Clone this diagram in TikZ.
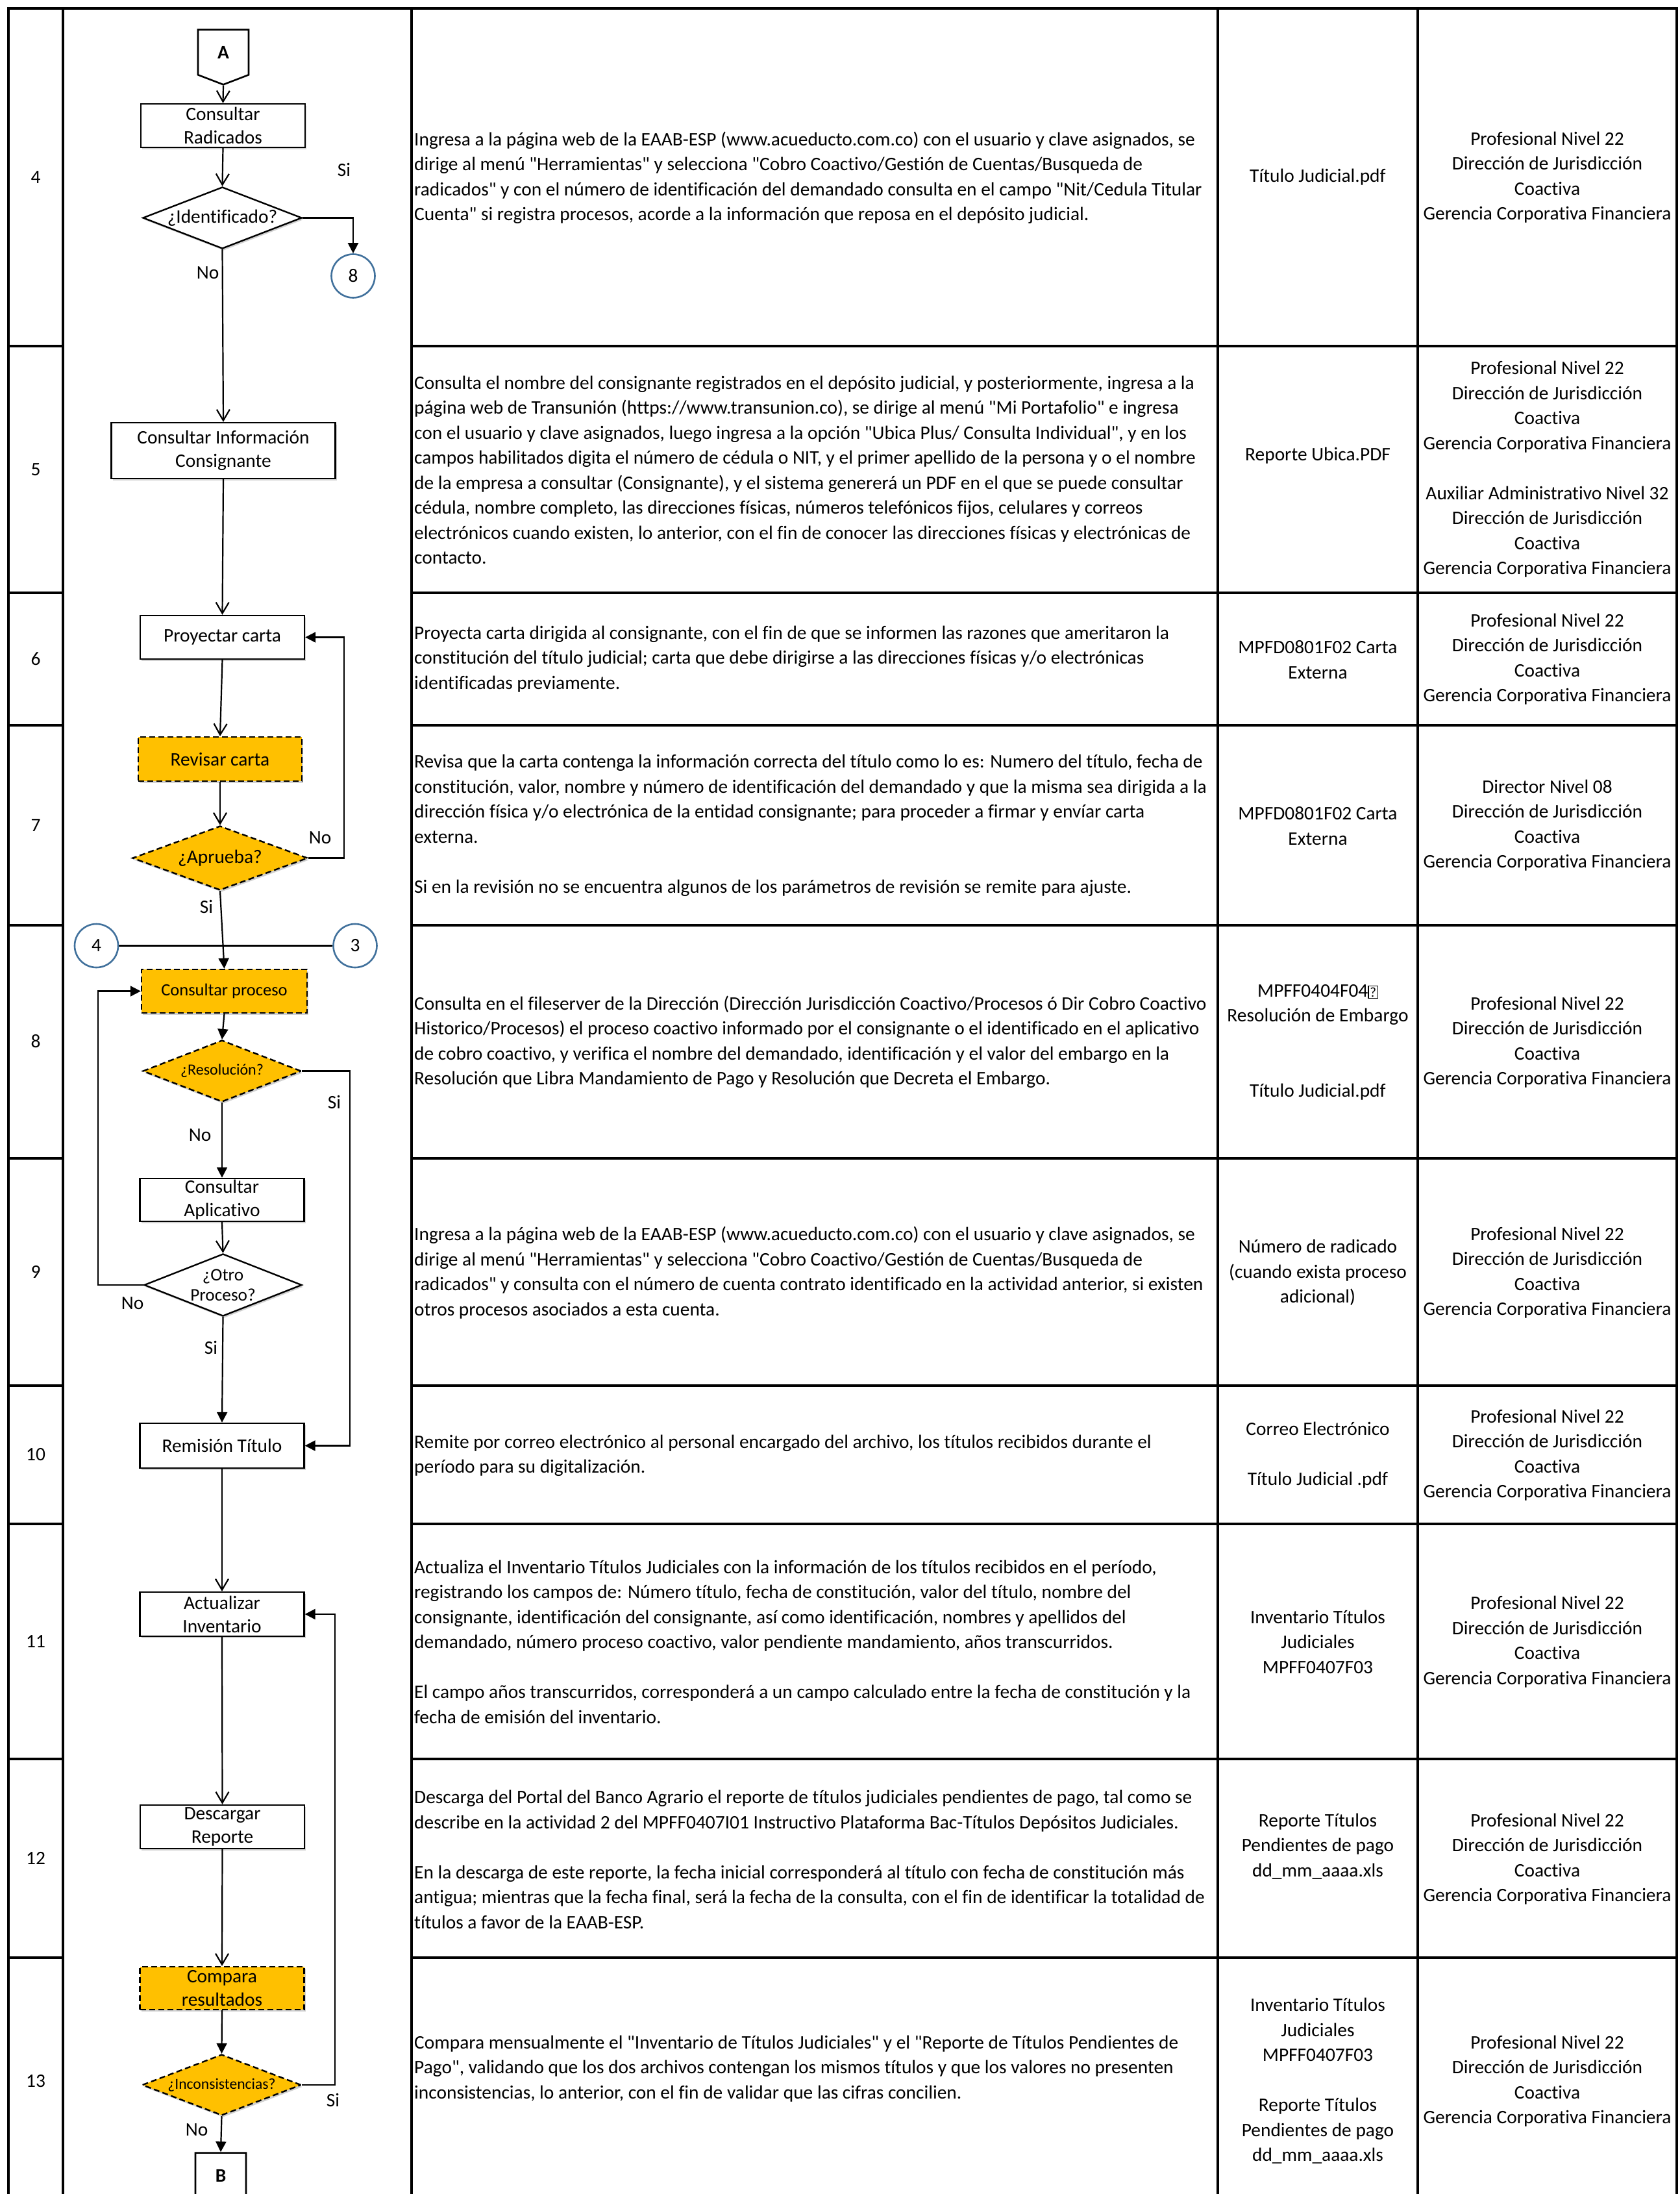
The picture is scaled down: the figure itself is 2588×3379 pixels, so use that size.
\documentclass[tikz,border=0pt]{standalone}
\usepackage{fontspec}
\setmainfont{Carlito}[Ligatures={TeXOff,NoCommon}]
\usetikzlibrary{shapes.geometric,shapes.symbols,arrows.meta,shadows}
\pgfdeclarelayer{bg}
\pgfsetlayers{bg,main}
\definecolor{naranja}{HTML}{FFC000}
\definecolor{azulcon}{HTML}{41719C}
\newcommand{\txt}{\fontsize{29.4pt}{38.5pt}\selectfont}
\newcommand{\tofu}{{\setlength{\fboxsep}{1.5pt}\setlength{\fboxrule}{1.4pt}\fbox{\fontsize{21pt}{21pt}\selectfont ?}}}
\newcommand{\profniv}{Profesional Nivel 22\\Dirección de Jurisdicción\\Coactiva\\Gerencia Corporativa Financiera}
\tikzset{
  x=1pt, y=-1pt,
  grid/.style={line width=4pt, line cap=rect},
  sombra/.style={drop shadow={shadow xshift=2pt, shadow yshift=-3pt, fill=black, opacity=0.18}},
  procbox/.style={rectangle, draw, line width=2.4pt, fill=white, minimum width=253pt, minimum height=67pt,
    inner sep=0pt, align=center, font=\fontsize{29.4pt}{36pt}\selectfont, sombra},
  checkbox/.style={procbox, fill=naranja, dash pattern=on 9pt off 5pt},
  decision/.style={diamond, draw, line width=2.4pt, fill=white, inner sep=0pt, align=center,
    font=\fontsize{29.4pt}{34pt}\selectfont, sombra},
  checkdecision/.style={decision, fill=naranja, dash pattern=on 9pt off 5pt},
  connector/.style={circle, draw=azulcon, line width=2.6pt, fill=white, minimum size=67pt, inner sep=0pt, font=\txt},
  offpage/.style={signal, signal to=south, signal pointer angle=138, draw, line width=2.6pt, fill=white,
    minimum width=78pt, minimum height=73pt, inner sep=0pt, font=\bfseries\txt},
  flow/.style={line width=2.2pt},
  openarr/.style={flow, -{Straight Barb[length=17pt,width=20pt]}},
  fillarr/.style={flow, -{Triangle[length=16pt,width=16pt]}},
  desccell/.style={anchor=west, align=left, inner sep=0pt, font=\txt},
  midcell/.style={align=center, inner sep=0pt, font=\txt},
  rownum/.style={inner sep=0pt, font=\txt},
  branch/.style={inner sep=0pt, font=\txt}
}
\begin{document}
\begin{tikzpicture}
        \useasboundingbox (0,0) rectangle (2588,3379);

        % tabla
        \foreach \cx in {13,97,634,1876,2184,2583}
                \draw[grid] (\cx,13) -- (\cx,3379);
        \draw[grid] (13,13) -- (2583,13);
        \foreach \ry in {533,913,1117,1425,1784,2134,2347,2709,3015} {
                \draw[grid] (13,\ry) -- (97,\ry);
                \draw[grid] (634,\ry) -- (2583,\ry);
        }

        % numero de actividad
        \foreach \num/\ry in {4/273,5/723,6/1015,7/1271,8/1604,9/1959,10/2240,11/2528,12/2862,13/3205}
                \node (n\num) [rownum] at (55,\ry) {\num};

        % flujograma
        \node (A) [offpage] at (344,80.5) {A};
        \node (rad) [procbox] at (343.5,193.5) {Consultar\\Radicados};
        \node (ident) [decision, aspect=2.58, minimum width=245pt, minimum height=95pt] at (342.5,335.5) {¿Identificado?};
        \node (c8) [connector] at (544,425) {8};
        \node (cons) [procbox, minimum width=345pt, minimum height=86pt] at (344,694) {Consultar Información\\Consignante};
        \node (proy) [procbox] at (342.5,981.5) {Proyectar carta};
        \node (rev) [checkbox, minimum width=252pt, minimum height=68pt] at (339,1169) {Revisar carta};
        \node (apr) [checkdecision, aspect=2.73, minimum width=270pt, minimum height=99pt] at (339,1321.5) {¿Aprueba?};
        \node (c4) [connector] at (148.5,1456.5) {4};
        \node (c3) [connector] at (547,1456.5) {3};
        \node (cproc) [checkbox, minimum width=255pt, font=\fontsize{26.5pt}{32pt}\selectfont] at (345.5,1526.5) {Consultar proceso};
        \node (resol) [checkdecision, aspect=2.57, minimum width=244pt, minimum height=95pt, font=\fontsize{24pt}{28pt}\selectfont] at (342,1649.5) {¿Resolución?};
        \node (capl) [procbox, minimum height=66pt] at (342,1848) {Consultar\\Aplicativo};
        \node (otro) [decision, aspect=2.53, minimum width=243pt, minimum height=96pt, font=\fontsize{27.3pt}{31pt}\selectfont] at (343.5,1979) {¿Otro\\Proceso?};
        \node (remis) [procbox, minimum height=69pt] at (342,2226.5) {Remisión Título};
        \node (actu) [procbox, minimum height=68pt] at (342,2486) {Actualizar\\Inventario};
        \node (desc) [procbox] at (342.5,2813.5) {Descargar\\Reporte};
        \node (comp) [checkbox, minimum height=66pt] at (342,3062) {Compara\\resultados};
        \node (incon) [checkdecision, aspect=2.6, minimum width=245pt, minimum height=94pt, font=\fontsize{23.6pt}{28pt}\selectfont] at (341.5,3211) {¿Inconsistencias?};
        \node (B) [offpage] at (340,3350.5) {B};

        \node (siIdent) [branch] at (530,261) {Si};
        \node (noIdent) [branch] at (320,420) {No};
        \node (noApr) [branch] at (493,1290) {No};
        \node (siApr) [branch] at (318,1396) {Si};
        \node (siResol) [branch] at (515,1697) {Si};
        \node (noResol) [branch] at (308,1748) {No};
        \node (noOtro) [branch] at (204,2007) {No};
        \node (siOtro) [branch] at (325,2075) {Si};
        \node (siIncon) [branch] at (513,3234) {Si};
        \node (noIncon) [branch] at (303,3280) {No};

        \begin{pgfonlayer}{bg}
                \fill[white] (0,0) rectangle (2588,3379);
                \draw[openarr] (A.south) -- (rad.north);
                \draw[openarr] (rad.south) -- (ident.north);
                \draw[fillarr] (ident.east) -| (c8.north);
                \draw[openarr] (ident.south) -- (cons.north);
                \draw[openarr] (cons.south) -- (proy.north);
                \draw[openarr] (proy.south) -- (rev.north);
                \draw[openarr] (rev.south) -- (apr.north);
                \draw[fillarr] (apr.east) -- ++(55,0) |- (proy.east);
                \draw[fillarr] (apr.south) -- (cproc.north);
                \draw[flow] (c4.east) -- (c3.west);
                \draw[fillarr] (cproc.south) -- (resol.north);
                \draw[fillarr] (resol.south) -- (capl.north);
                \draw[fillarr] (resol.east) -- ++(74,0) |- (remis.east);
                \draw[openarr] (capl.south) -- (otro.north);
                \draw[fillarr] (otro.west) -- ++(-70,0) |- (cproc.west);
                \draw[fillarr] (otro.south) -- (remis.north);
                \draw[openarr] (remis.south) -- (actu.north);
                \draw[openarr] (actu.south) -- (desc.north);
                \draw[openarr] (desc.south) -- (comp.north);
                \draw[fillarr] (comp.south) -- (incon.north);
                \draw[fillarr] (incon.east) -- ++(51,0) |- (actu.east);
                \draw[fillarr] (incon.south) -- (B.north);
        \end{pgfonlayer}

        % descripcion
        \node (d4) [desccell] at (638,274) {Ingresa a la página web de la EAAB-ESP (www.acueducto.com.co) con el usuario y clave asignados, se\\
dirige al menú "Herramientas" y selecciona "Cobro Coactivo/Gestión de Cuentas/Busqueda de\\
radicados" y con el número de identificación del demandado consulta en el campo "Nit/Cedula Titular\\
Cuenta" si registra procesos, acorde a la información que reposa en el depósito judicial.};
        \node (d5) [desccell] at (638,724) {Consulta el nombre del consignante registrados en el depósito judicial, y posteriormente, ingresa a la\\
página web de Transunión (https://www.transunion.co),  se dirige al menú "Mi Portafolio" e ingresa\\
con el usuario y clave asignados, luego ingresa a la opción "Ubica Plus/ Consulta Individual", y en los\\
campos habilitados digita el número de cédula o NIT, y el primer apellido de la persona y o el nombre\\
de la empresa a consultar (Consignante), y el sistema genererá un PDF en el que se puede consultar\\
cédula, nombre completo, las direcciones físicas, números telefónicos fijos, celulares y correos\\
electrónicos cuando existen, lo anterior, con el fin de conocer las direcciones físicas y electrónicas de\\
contacto.};
        \node (d6) [desccell] at (638,1015) {Proyecta carta dirigida al consignante, con el fin de que se informen las razones que ameritaron la\\
constitución del título judicial; carta que debe dirigirse a las direcciones físicas y/o electrónicas\\
identificadas previamente.};
        \node (d7) [desccell] at (638,1271.5) {Revisa que la carta contenga la información correcta del título como lo es: Numero del título, fecha de\\
constitución, valor, nombre y número de identificación del demandado y que la misma sea dirigida a la\\
dirección física y/o electrónica de la entidad consignante; para proceder a firmar y envíar carta\\
externa.\\[38.5pt]
Si en la revisión no se encuentra algunos de los parámetros de revisión se remite para ajuste.};
        \node (d8) [desccell] at (638,1605) {Consulta en el fileserver de la Dirección (Dirección Jurisdicción Coactivo/Procesos ó Dir Cobro Coactivo\\
Historico/Procesos) el proceso coactivo informado por el consignante o el identificado en el aplicativo\\
de cobro coactivo, y verifica el nombre del demandado, identificación y el valor del embargo en la\\
Resolución que Libra Mandamiento de Pago y Resolución que Decreta el Embargo.};
        \node (d9) [desccell] at (638,1960) {Ingresa a la página web de la EAAB-ESP (www.acueducto.com.co) con el usuario y clave asignados, se\\
dirige al menú "Herramientas" y selecciona "Cobro Coactivo/Gestión de Cuentas/Busqueda de\\
radicados" y consulta con el número de cuenta contrato identificado en la actividad anterior, si existen\\
otros procesos asociados a esta cuenta.};
        \node (d10) [desccell] at (638,2242) {Remite por correo electrónico al personal encargado del archivo, los títulos recibidos durante el\\
período para su digitalización.};
        \node (d11) [desccell] at (638,2528.5) {Actualiza el Inventario Títulos Judiciales con la información de los títulos recibidos en el período,\\
registrando los campos de: Número título,  fecha de constitución, valor del título, nombre del\\
consignante, identificación del consignante, así como identificación, nombres y apellidos del\\
demandado, número proceso coactivo, valor pendiente mandamiento, años transcurridos.\\[38.5pt]
El campo años transcurridos, corresponderá a un campo calculado entre la fecha de constitución y la\\
fecha de emisión del inventario.};
        \node (d12) [desccell] at (638,2864) {Descarga del Portal del Banco Agrario el reporte de títulos judiciales pendientes de pago, tal como se\\
describe en la actividad 2 del MPFF0407I01 Instructivo Plataforma Bac-Títulos Depósitos Judiciales.\\[38.5pt]
En la descarga de este reporte, la fecha inicial corresponderá al título con fecha de constitución más\\
antigua; mientras que la fecha final, será la fecha de la consulta, con el fin de identificar la totalidad de\\
títulos a favor de la EAAB-ESP.};
        \node (d13) [desccell] at (638,3186) {Compara mensualmente el "Inventario de Títulos Judiciales" y el "Reporte de Títulos Pendientes de\\
Pago", validando que los dos archivos contengan los mismos títulos y que los valores no presenten\\
inconsistencias, lo anterior, con el fin de validar que las cifras concilien.};

        % registros
        \node (r4) [midcell] at (2030,273) {Título Judicial.pdf};
        \node (r5) [midcell] at (2030,702) {Reporte Ubica.PDF};
        \node (r6) [midcell] at (2030,1016) {MPFD0801F02 Carta\\Externa};
        \node (r7) [midcell] at (2030,1272) {MPFD0801F02 Carta\\Externa};
        \node (r8) [midcell] at (2030,1605) {MPFF0404F04\tofu\\Resolución de Embargo\\[77pt]Título Judicial.pdf};
        \node (r9) [midcell] at (2030,1960) {Número de radicado\\(cuando exista proceso\\adicional)};
        \node (r10) [midcell] at (2030,2241.5) {Correo Electrónico\\[38.5pt]Título Judicial .pdf};
        \node (r11) [midcell] at (2030,2528.5) {Inventario Títulos\\Judiciales\\MPFF0407F03};
        \node (r12) [midcell] at (2030,2843.5) {Reporte Títulos\\Pendientes de pago\\dd\_mm\_aaaa.xls};
        \node (r13) [midcell] at (2030,3205) {Inventario Títulos\\Judiciales\\MPFF0407F03\\[38.5pt]Reporte Títulos\\Pendientes de pago\\dd\_mm\_aaaa.xls};

        % responsables
        \node (p4) [midcell] at (2383.5,273) {\profniv};
        \node (p5) [midcell] at (2383.5,723) {\profniv\\[38.5pt]Auxiliar Administrativo Nivel 32\\Dirección de Jurisdicción\\Coactiva\\Gerencia Corporativa Financiera};
        \node (p6) [midcell] at (2383.5,1015) {\profniv};
        \node (p7) [midcell] at (2383.5,1271) {Director Nivel 08\\Dirección de Jurisdicción\\Coactiva\\Gerencia Corporativa Financiera};
        \node (p8) [midcell] at (2383.5,1605) {\profniv};
        \node (p9) [midcell] at (2383.5,1960) {\profniv};
        \node (p10) [midcell] at (2383.5,2241) {\profniv};
        \node (p11) [midcell] at (2383.5,2528.5) {\profniv};
        \node (p12) [midcell] at (2383.5,2863) {\profniv};
        \node (p13) [midcell] at (2383.5,3205) {\profniv};
\end{tikzpicture}
\end{document}
